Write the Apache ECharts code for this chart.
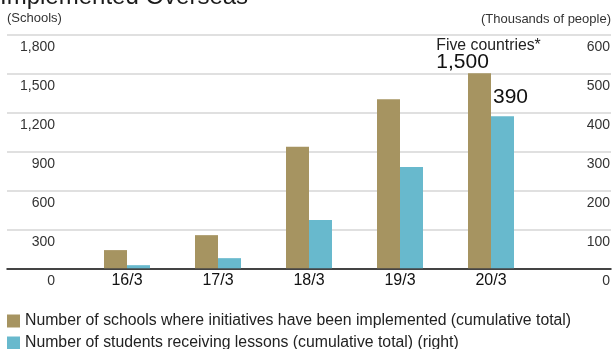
<!DOCTYPE html>
<html>
<head>
<meta charset="utf-8">
<script src="https://cdn.jsdelivr.net/npm/echarts@6/dist/echarts.min.js"></script>
<style>
  html, body { margin: 0; padding: 0; background: #ffffff; }
  #chart { width: 614px; height: 349px; }
</style>
</head>
<body>
<div id="chart"></div>
<script>
// Fiscal year-end categories
const categories = ['16/3', '17/3', '18/3', '19/3', '20/3'];
// Schools where initiatives have been implemented (cumulative)
const schools = [140, 255, 935, 1300, 1500];
// Students receiving lessons, thousands of people (cumulative)
const students = [8, 26, 124, 260, 390];
// Axis tick labels
const leftTicks = ['0', '300', '600', '900', '1,200', '1,500', '1,800'];
const rightTicks = ['0', '100', '200', '300', '400', '500', '600'];

const seriesNames = [
  'Number of schools where initiatives have been implemented (cumulative total)',
  'Number of students receiving lessons (cumulative total) (right)'
];

const OLIVE = '#a69461';
const BLUE = '#68b9cd';
const FONT = '"Liberation Sans", Arial, sans-serif';

const fmt = v => v.toLocaleString('en-US');
const last = categories.length - 1;

// one legend row per series, stacked under the chart
const legendRow = (name, top) => ({
  type: 'plain',
  orient: 'horizontal',
  left: 7,
  top: top,
  padding: 0,
  itemWidth: 13,
  itemHeight: 13,
  icon: 'rect',
  textStyle: { fontSize: 15.8, lineHeight: 16, color: '#222', fontFamily: FONT },
  data: [name]
});

const chart = echarts.init(document.getElementById('chart'), null, { renderer: 'canvas' });

chart.setOption({
  animation: false,
  textStyle: { fontFamily: FONT },
  title: {
    text: 'Implemented Overseas',
    left: 0,
    top: -15,
    padding: 0,
    textStyle: { fontSize: 24, fontWeight: 'normal', color: '#1a1a1a', fontFamily: FONT }
  },
  legend: [legendRow(seriesNames[0], 313), legendRow(seriesNames[1], 335)],
  grid: [
    // plotting grid for bars
    { left: 81.5, right: 77.5, top: 34.3, bottom: 80.7 },
    // full-width frame for gridlines, baseline and axis captions
    { left: 7, right: 2, top: 34.3, bottom: 80.7 }
  ],
  xAxis: [
    {
      type: 'category',
      gridIndex: 0,
      data: categories,
      axisLine: { show: false },
      axisTick: { show: false },
      axisLabel: {
        margin: 4,
        fontSize: 16,
        lineHeight: 16,
        color: '#111',
        fontFamily: FONT
      }
    },
    {
      type: 'value',
      gridIndex: 1,
      min: 0,
      max: 1,
      axisLine: { show: true, onZero: false, lineStyle: { color: '#111', width: 1.5 } },
      axisTick: { show: false },
      axisLabel: { show: false },
      splitLine: { show: false }
    }
  ],
  yAxis: [
    {
      type: 'value',
      gridIndex: 0,
      min: 0,
      max: 1800,
      interval: 300,
      axisLine: { show: false },
      axisTick: { show: false },
      splitLine: { show: false },
      axisLabel: {
        margin: 26.5,
        fontSize: 14,
        lineHeight: 25,
        verticalAlign: 'top',
        color: '#333',
        fontFamily: FONT,
        formatter: (v, i) => leftTicks[i]
      }
    },
    {
      type: 'value',
      gridIndex: 0,
      position: 'right',
      min: 0,
      max: 600,
      interval: 100,
      axisLine: { show: false },
      axisTick: { show: false },
      splitLine: { show: false },
      axisLabel: {
        margin: 73.5,
        align: 'right',
        fontSize: 14,
        lineHeight: 25,
        verticalAlign: 'top',
        color: '#333',
        fontFamily: FONT,
        formatter: (v, i) => rightTicks[i]
      }
    },
    {
      type: 'value',
      gridIndex: 1,
      min: 0,
      max: 1800,
      interval: 300,
      name: '(Schools)',
      nameLocation: 'end',
      nameGap: 9,
      nameTextStyle: { align: 'left', fontSize: 13, color: '#333', fontFamily: FONT },
      axisLine: { show: false },
      axisTick: { show: false },
      axisLabel: { show: false },
      splitLine: { show: true, lineStyle: { color: '#d6d6d6', width: 1.5 } }
    },
    {
      type: 'value',
      gridIndex: 1,
      position: 'right',
      min: 0,
      max: 600,
      interval: 100,
      name: '(Thousands of people)',
      nameLocation: 'end',
      nameGap: 8,
      nameTextStyle: { align: 'right', fontSize: 13, color: '#333', fontFamily: FONT },
      axisLine: { show: false },
      axisTick: { show: false },
      axisLabel: { show: false },
      splitLine: { show: false }
    }
  ],
  series: [
    {
      name: seriesNames[0],
      type: 'bar',
      xAxisIndex: 0,
      yAxisIndex: 0,
      barWidth: 23,
      barGap: '0%',
      itemStyle: { color: OLIVE },
      data: schools.map((v, i) => i === last ? {
        value: v,
        label: {
          show: true,
          position: 'top',
          distance: 2,
          offset: [9, 0],
          formatter: p => '{a|Five countries*}\n{b|' + fmt(p.value) + '}',
          rich: {
            a: { fontSize: 15.8, lineHeight: 16, color: '#222', align: 'left', fontFamily: FONT },
            b: { fontSize: 21, lineHeight: 18, color: '#111', align: 'left', fontFamily: FONT }
          }
        }
      } : v)
    },
    {
      name: seriesNames[1],
      type: 'bar',
      xAxisIndex: 0,
      yAxisIndex: 1,
      barWidth: 23,
      barGap: '0%',
      itemStyle: { color: BLUE },
      data: students.map((v, i) => i === last ? {
        value: v,
        label: {
          show: true,
          position: 'top',
          distance: 9,
          offset: [8, 0],
          fontSize: 21,
          lineHeight: 20,
          color: '#111',
          fontFamily: FONT,
          formatter: p => fmt(p.value)
        }
      } : v)
    }
  ]
});
</script>
</body>
</html>
